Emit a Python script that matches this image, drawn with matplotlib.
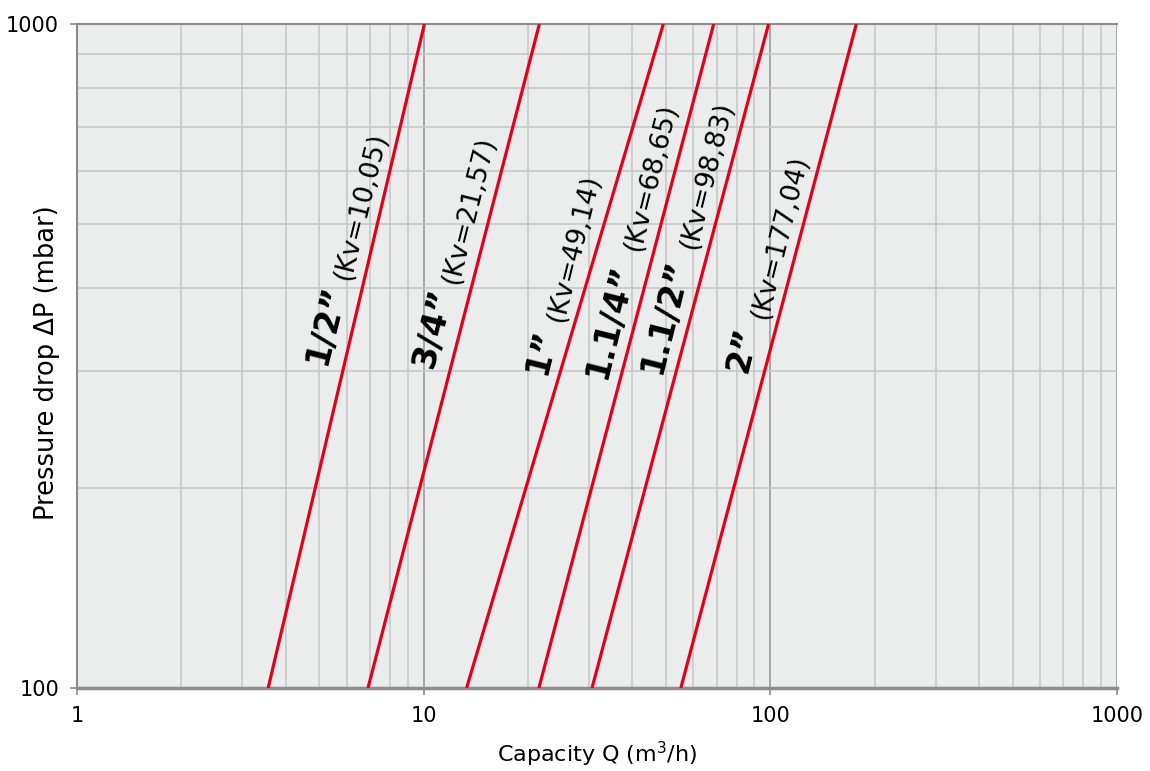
import numpy as np
import matplotlib
matplotlib.use("Agg")
import matplotlib.pyplot as plt
from matplotlib.ticker import LogLocator, NullFormatter, FixedLocator, FixedFormatter

# valve sizes and Kv values
SIZES = ['1/2”', '3/4”', '1”', '1.1/4”', '1.1/2”', '2”']
KV_TEXT = ['(Kv=10,05)', '(Kv=21,57)', '(Kv=49,14)', '(Kv=68,65)', '(Kv=98,83)', '(Kv=177,04)']

# capacity at 100 mbar and at 1000 mbar
DP = [100, 1000]
Q_AT_100 = [3.56, 6.91, 13.3, 21.5, 30.6, 55.2]
Q_AT_1000 = [10.05, 21.57, 49.14, 68.65, 98.83, 177.04]

X_TICKS = [1, 10, 100, 1000]
Y_TICKS = [100, 1000]

# label centres in pixels (bold size, then Kv text)
SIZE_POS = [(326, 325), (433, 328), (541, 352), (610, 322), (665, 317), (743, 350)]
KV_POS = [(361, 206), (469, 210), (574, 248), (651, 177), (707, 175), (780, 237)]

RED = '#e2001a'
GRID = '#c8c8c8'
SPINE = '#8c8c8c'

fig = plt.figure(figsize=(11.5, 7.71), dpi=100)
ax = fig.add_axes([77 / 1150, 1 - 688 / 771, (1117 - 77) / 1150, (688 - 24) / 771])
ax.set_facecolor('#ebecec')
ax.set_xscale('log')
ax.set_yscale('log')
ax.set_xlim(1, 1000)
ax.set_ylim(100, 1000)

for q0, q1 in zip(Q_AT_100, Q_AT_1000):
    ax.plot([q0, q1], DP, color=RED, lw=2.3, solid_capstyle='butt', zorder=3)

ax.xaxis.set_major_locator(FixedLocator(X_TICKS))
ax.xaxis.set_major_formatter(FixedFormatter([str(v) for v in X_TICKS]))
ax.yaxis.set_major_locator(FixedLocator(Y_TICKS))
ax.yaxis.set_major_formatter(FixedFormatter([str(v) for v in Y_TICKS]))
ax.xaxis.set_minor_locator(LogLocator(base=10, subs=np.arange(2, 10)))
ax.yaxis.set_minor_locator(LogLocator(base=10, subs=np.arange(2, 10)))
ax.xaxis.set_minor_formatter(NullFormatter())
ax.yaxis.set_minor_formatter(NullFormatter())

ax.grid(which='minor', color=GRID, lw=1.2, zorder=0)
ax.grid(which='major', color='#9a9a9a', lw=1.2, zorder=0)
ax.set_axisbelow(True)
ax.tick_params(which='minor', length=0)
ax.tick_params(which='major', length=5, color=SPINE, width=1.2, labelsize=15, pad=8)

for s in ['left', 'top', 'bottom']:
    ax.spines[s].set_color(SPINE)
ax.spines['left'].set_linewidth(1.5)
ax.spines['top'].set_linewidth(1.5)
ax.spines['bottom'].set_linewidth(2.5)
ax.spines['right'].set_visible(False)

ax.set_xlabel('Capacity Q (m$^3$/h)', fontsize=16, labelpad=10)
ax.set_ylabel('Pressure drop ΔP (mbar)', fontsize=18.5)
ax.yaxis.set_label_coords((60 - 77) / 1040, (688 - 363) / 664)


def px_to_data(px, py):
    x = 10 ** ((px - 77) / ((1117 - 77) / 3))
    y = 10 ** (3 - (py - 24) / (688 - 24))
    return x, y


for name, kv, p1, p2 in zip(SIZES, KV_TEXT, SIZE_POS, KV_POS):
    x, y = px_to_data(*p1)
    ax.text(x, y, name, rotation=76, fontsize=24, fontweight='bold',
            ha='center', va='center', zorder=4)
    x, y = px_to_data(*p2)
    ax.text(x, y, kv, rotation=76, fontsize=19,
            ha='center', va='center', zorder=4)

fig.savefig('out.png', dpi=100)
